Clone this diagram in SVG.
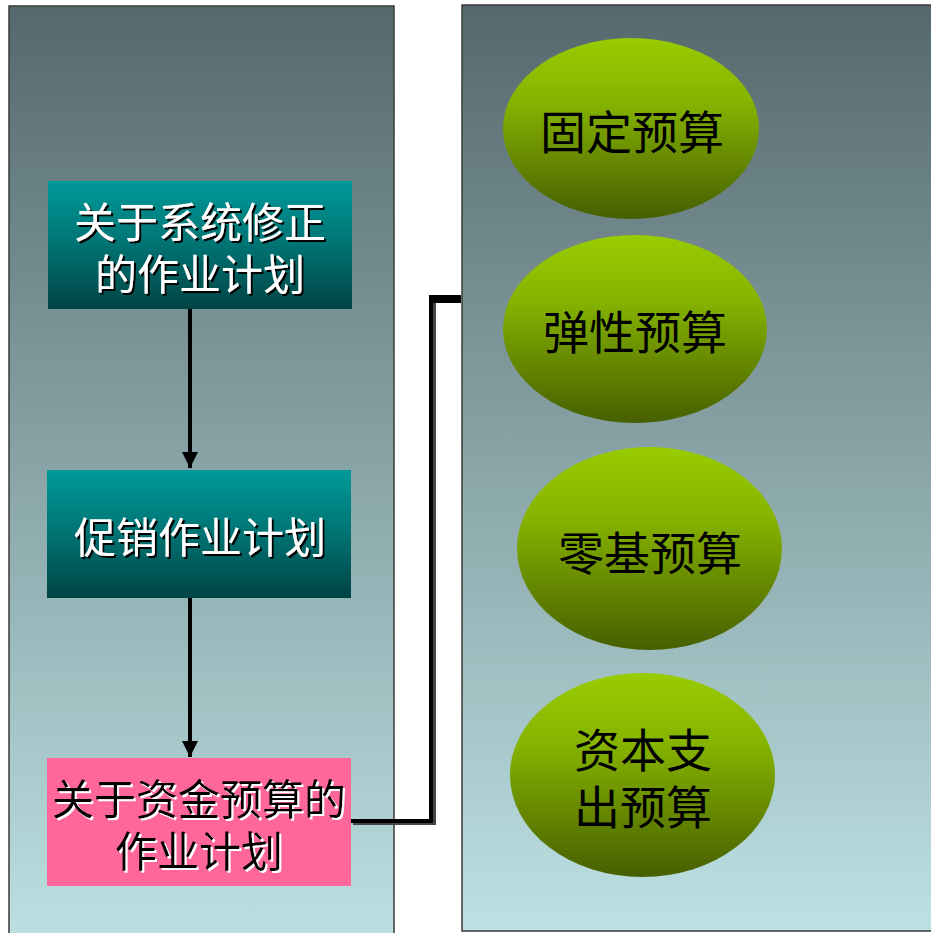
<svg xmlns="http://www.w3.org/2000/svg" width="931" height="933" viewBox="0 0 931 933">
<defs>
<linearGradient id="panel" x1="0" y1="0" x2="0" y2="1">
<stop offset="0" stop-color="#55696d"/>
<stop offset="1" stop-color="#bde1e3"/>
</linearGradient>
<linearGradient id="teal" x1="0" y1="0" x2="0" y2="1">
<stop offset="0" stop-color="#009999"/>
<stop offset="0.45" stop-color="#007777"/>
<stop offset="1" stop-color="#004444"/>
</linearGradient>
<linearGradient id="green" x1="0" y1="0" x2="0" y2="1">
<stop offset="0" stop-color="#99cc00"/>
<stop offset="0.35" stop-color="#86b300"/>
<stop offset="1" stop-color="#465f00"/>
</linearGradient>
<filter id="shB" x="-5%" y="-10%" width="110%" height="120%">
<feOffset in="SourceAlpha" dx="2" dy="2" result="o"/>
<feMerge><feMergeNode in="o"/><feMergeNode in="SourceGraphic"/></feMerge>
</filter>
<filter id="shW" x="-5%" y="-10%" width="110%" height="120%">
<feOffset in="SourceAlpha" dx="2" dy="2" result="o"/>
<feFlood flood-color="#ffffff" result="f"/>
<feComposite in="f" in2="o" operator="in" result="w"/>
<feMerge><feMergeNode in="w"/><feMergeNode in="SourceGraphic"/></feMerge>
</filter>
<marker id="arr" viewBox="0 0 10 10" refX="10" refY="5" markerWidth="4" markerHeight="4" orient="auto" markerUnits="strokeWidth">
<path d="M0,0 L10,5 L0,10 z" fill="#000"/>
</marker>
</defs>
<style>
.panel{fill:url(#panel);stroke:#3a3a3a;stroke-width:1.5}
.lbl{font-family:"Liberation Sans","Noto Sans CJK SC",sans-serif;font-size:42px;text-anchor:middle}
.wt{fill:#fff}
.bl{fill:#000}
.ell{font-family:"Liberation Serif","Noto Sans CJK SC",serif;font-size:46px;text-anchor:middle;fill:#000}
.conn{fill:none;stroke:#000;stroke-width:4}
</style>
<rect class="panel" x="9" y="6" width="385" height="940"/>
<rect class="panel" x="462" y="5" width="480" height="926"/>

<g id="connectors">
<line class="conn" x1="190" y1="309" x2="190" y2="468" marker-end="url(#arr)"/>
<line class="conn" x1="190" y1="598" x2="190" y2="757" marker-end="url(#arr)"/>
<path d="M353,823 L434,823 L434,302" fill="none" stroke="#444" stroke-width="4"/>
<path class="conn" d="M351,821 L431,821 L431,297"/>
<rect x="429" y="295" width="32" height="8" fill="#000"/>
</g>

<g id="box1">
<rect x="48" y="181" width="304" height="128" fill="url(#teal)"/>
<g filter="url(#shB)">
<text class="lbl wt" x="200" y="238">关于系统修正</text>
<text class="lbl wt" x="200" y="290">的作业计划</text>
</g>
</g>

<g id="box2">
<rect x="47" y="470" width="304" height="128" fill="url(#teal)"/>
<g filter="url(#shB)">
<text class="lbl wt" x="200" y="553">促销作业计划</text>
</g>
</g>

<g id="box3">
<rect x="47" y="758" width="304" height="128" fill="#ff6699"/>
<g filter="url(#shW)">
<text class="lbl bl" x="199" y="815">关于资金预算的</text>
<text class="lbl bl" x="199" y="867">作业计划</text>
</g>
</g>

<g id="e1">
<ellipse cx="631" cy="128.5" rx="128" ry="90.5" fill="url(#green)"/>
<text class="ell" x="632" y="149">固定预算</text>
</g>
<g id="e2">
<ellipse cx="635" cy="329" rx="132" ry="94" fill="url(#green)"/>
<text class="ell" x="635" y="349">弹性预算</text>
</g>
<g id="e3">
<ellipse cx="649.5" cy="548.5" rx="132.5" ry="101.5" fill="url(#green)"/>
<text class="ell" x="650" y="570">零基预算</text>
</g>
<g id="e4">
<ellipse cx="642.5" cy="775" rx="132.5" ry="102" fill="url(#green)"/>
<text class="ell" x="643" y="767">资本支</text>
<text class="ell" x="643" y="824">出预算</text>
</g>
</svg>
